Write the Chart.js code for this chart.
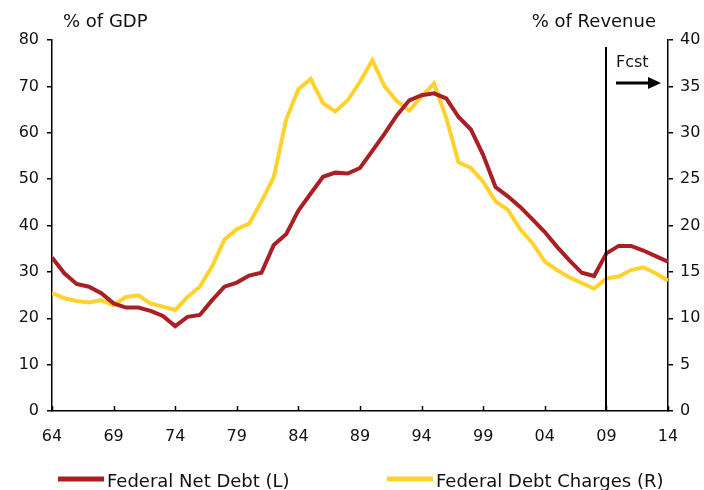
<!DOCTYPE html>
<html>
<head>
<meta charset="utf-8">
<script src="https://cdn.jsdelivr.net/npm/chart.js@4"></script>
<style>
  html, body { margin: 0; padding: 0; background: #fff; }
  #wrap { width: 704px; height: 490px; position: relative; }
</style>
</head>
<body>
<div id="wrap"><canvas id="debtChart" width="704" height="490"></canvas></div>
<script>
// Federal net debt (% of GDP, left) and debt charges (% of revenue, right)
const years = [];
for (let y = 1964; y <= 2014; y++) years.push(y);

const netDebt = [33.1, 29.7, 27.4, 26.8, 25.4, 23.2, 22.3, 22.3, 21.6, 20.5,
  18.3, 20.3, 20.7, 23.9, 26.8, 27.7, 29.2, 29.8, 35.8, 38.1,
  43.2, 46.9, 50.5, 51.4, 51.2, 52.4, 56.1, 59.8, 63.8, 67.0,
  68.1, 68.5, 67.4, 63.4, 60.7, 55.2, 48.3, 46.3, 44.0, 41.3,
  38.6, 35.4, 32.5, 29.8, 29.1, 34.0, 35.6, 35.6, 34.6, 33.4, 32.2];

const debtCharges = [12.75, 12.15, 11.86, 11.7, 11.97, 11.4, 12.3, 12.47, 11.6, 11.25,
  10.9, 12.3, 13.4, 15.6, 18.5, 19.6, 20.2, 22.6, 25.2, 31.4,
  34.7, 35.8, 33.2, 32.3, 33.5, 35.5, 37.8, 35.0, 33.4, 32.4,
  33.9, 35.3, 31.6, 26.8, 26.2, 24.7, 22.6, 21.7, 19.6, 18.1,
  16.1, 15.2, 14.4, 13.8, 13.2, 14.3, 14.5, 15.2, 15.5, 14.85, 14.05];

const xTicks = [1964, 1969, 1974, 1979, 1984, 1989, 1994, 1999, 2004, 2009, 2014];
const leftTicks = [0, 10, 20, 30, 40, 50, 60, 70, 80];
const rightTicks = [0, 5, 10, 15, 20, 25, 30, 35, 40];
const forecastYear = 2009;

const seriesNames = ['Federal Net Debt (L)', 'Federal Debt Charges (R)'];
const RED = '#AA1F24';
const YELLOW = '#FFD22E';
const FONT = '"DejaVu Sans", Verdana, sans-serif';

Chart.defaults.font.family = FONT;
Chart.defaults.color = '#111';

const extras = {
  id: 'extras',
  afterDraw(chart) {
    const { ctx, chartArea, scales } = chart;
    const x = scales.x;
    ctx.save();
    // inward x ticks
    ctx.strokeStyle = '#000';
    ctx.lineWidth = 1.5;
    xTicks.forEach(v => {
      const px = Math.round(x.getPixelForValue(v)) + 0.5;
      ctx.beginPath();
      ctx.moveTo(px, chartArea.bottom);
      ctx.lineTo(px, chartArea.bottom - 5);
      ctx.stroke();
    });
    // forecast line
    const fx = Math.round(x.getPixelForValue(forecastYear));
    ctx.lineWidth = 2;
    ctx.beginPath();
    ctx.moveTo(fx, 47);
    ctx.lineTo(fx, chartArea.bottom);
    ctx.stroke();
    // Fcst label and arrow
    ctx.fillStyle = '#111';
    ctx.font = '16px ' + FONT;
    ctx.textAlign = 'left';
    ctx.textBaseline = 'middle';
    ctx.fillText('Fcst', 616, 63);
    ctx.fillStyle = '#000';
    ctx.lineWidth = 3;
    ctx.beginPath();
    ctx.moveTo(616, 83);
    ctx.lineTo(650, 83);
    ctx.stroke();
    ctx.beginPath();
    ctx.moveTo(661, 83);
    ctx.lineTo(648, 77);
    ctx.lineTo(648, 89);
    ctx.closePath();
    ctx.fill();
    // axis titles
    ctx.fillStyle = '#111';
    ctx.font = '18px ' + FONT;
    ctx.fillText('% of GDP', 63, 22);
    ctx.textAlign = 'right';
    ctx.fillText('% of Revenue', 656, 22);
    // legend
    const items = [
      { name: seriesNames[0], color: RED, x0: 58 },
      { name: seriesNames[1], color: YELLOW, x0: 387 }
    ];
    ctx.textAlign = 'left';
    ctx.font = '18px ' + FONT;
    items.forEach(it => {
      ctx.strokeStyle = it.color;
      ctx.lineWidth = 5;
      ctx.beginPath();
      ctx.moveTo(it.x0, 479);
      ctx.lineTo(it.x0 + 46, 479);
      ctx.stroke();
      ctx.fillText(it.name, it.x0 + 49, 482);
    });
    ctx.restore();
  }
};

new Chart(document.getElementById('debtChart'), {
  type: 'line',
  data: {
    datasets: [{
      label: seriesNames[0],
      data: years.map((y, i) => ({ x: y, y: netDebt[i] })),
      borderColor: RED,
      borderWidth: 4,
      pointRadius: 0,
      tension: 0,
      yAxisID: 'yL'
    }, {
      label: seriesNames[1],
      data: years.map((y, i) => ({ x: y, y: debtCharges[i] })),
      borderColor: YELLOW,
      borderWidth: 4,
      pointRadius: 0,
      tension: 0,
      yAxisID: 'yR'
    }]
  },
  options: {
    responsive: false,
    animation: false,
    layout: { padding: { top: 40, left: 0, right: 0, bottom: 0 } },
    plugins: {
      legend: { display: false },
      tooltip: { enabled: false }
    },
    scales: {
      x: {
        type: 'linear',
        min: 1964,
        max: 2014,
        afterBuildTicks: s => { s.ticks = xTicks.map(v => ({ value: v })); },
        afterFit: s => { s.height = 79; },
        grid: { display: false, drawTicks: false },
        border: { color: '#000', width: 1.5 },
        ticks: {
          padding: 16,
          autoSkip: false,
          maxRotation: 0,
          font: { size: 16 },
          callback: v => String(v % 100).padStart(2, '0')
        }
      },
      yL: {
        position: 'left',
        min: 0,
        max: 80,
        afterBuildTicks: s => { s.ticks = leftTicks.map(v => ({ value: v })); },
        afterFit: s => { s.width = 52; },
        grid: { drawOnChartArea: false, tickLength: 5, color: '#000', lineWidth: 1.5 },
        border: { color: '#000', width: 1.5 },
        ticks: { padding: 8, autoSkip: false, font: { size: 16 } }
      },
      yR: {
        position: 'right',
        min: 0,
        max: 40,
        afterBuildTicks: s => { s.ticks = rightTicks.map(v => ({ value: v })); },
        afterFit: s => { s.width = 36; },
        grid: { drawOnChartArea: false, tickLength: 5, color: '#000', lineWidth: 1.5 },
        border: { color: '#000', width: 1.5 },
        ticks: { padding: 7, autoSkip: false, font: { size: 16 } }
      }
    }
  },
  plugins: [extras]
});
</script>
</body>
</html>
